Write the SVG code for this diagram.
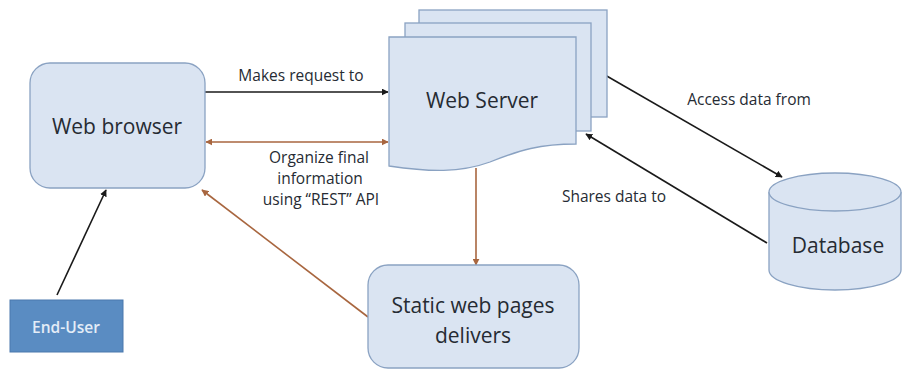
<svg xmlns="http://www.w3.org/2000/svg" width="904" height="373" viewBox="0 0 904 373">
<defs>
<style>
.box{fill:#dae4f2;stroke:#8aa2c2;stroke-width:1.3}
.t{font-family:"Open Sans","Liberation Sans",sans-serif;fill:#262b33}
.big{font-size:21px}
.lbl{font-size:15.5px}
.blk{stroke:#1a1a1a;stroke-width:1.6;fill:none}
.brn{stroke:#a8663f;stroke-width:1.6;fill:none}
</style>
<marker id="ak" viewBox="0 0 10 10" refX="9" refY="5" markerWidth="7" markerHeight="7" markerUnits="userSpaceOnUse" orient="auto-start-reverse"><path d="M0,0 L10,5 L0,10 z" fill="#1a1a1a"/></marker>
<marker id="ab" viewBox="0 0 10 10" refX="9" refY="5" markerWidth="7" markerHeight="7" markerUnits="userSpaceOnUse" orient="auto-start-reverse"><path d="M0,0 L10,5 L0,10 z" fill="#a8663f"/></marker>
</defs>
<rect width="904" height="373" fill="#ffffff"/>

<g id="connectors">
<line class="blk" x1="205" y1="92" x2="388" y2="92" marker-end="url(#ak)"/>
<line class="brn" x1="206" y1="142" x2="388" y2="142" marker-start="url(#ab)" marker-end="url(#ab)"/>
<line class="blk" x1="605" y1="75" x2="782" y2="177" marker-end="url(#ak)"/>
<line class="blk" x1="767" y1="243" x2="586" y2="134" marker-end="url(#ak)"/>
<line class="blk" x1="57" y1="295" x2="106" y2="190" marker-end="url(#ak)"/>
<line class="brn" x1="368" y1="317" x2="202" y2="190" marker-end="url(#ab)"/>
<line class="brn" x1="476" y1="168" x2="476" y2="265" marker-end="url(#ab)"/>
<text class="t lbl" x="301" y="81" text-anchor="middle">Makes request to</text>
<text class="t lbl" x="319" y="163" text-anchor="middle">Organize final</text>
<text class="t lbl" x="320" y="184" text-anchor="middle">information</text>
<text class="t lbl" x="321" y="205" text-anchor="middle">using “REST” API</text>
<text class="t lbl" x="749" y="105" text-anchor="middle">Access data from</text>
<text class="t lbl" x="614" y="202" text-anchor="middle">Shares data to</text>
</g>

<g id="web-browser">
<rect class="box" x="30" y="63" width="175" height="125" rx="20"/>
<text class="t big" x="117" y="134" text-anchor="middle">Web browser</text>
</g>

<g id="web-server">
<rect class="box" x="419" y="10" width="188" height="107"/>
<rect class="box" x="405" y="23" width="186" height="108"/>
<path class="box" d="M389,37 H576 V144 C540,144 520,150 490,162 C460,173 430,172 389,166 Z"/>
<text class="t big" x="482" y="108" text-anchor="middle">Web Server</text>
</g>

<g id="database">
<path class="box" d="M769,192 V270 A66,20 0 0 0 901,270 V192"/>
<ellipse class="box" cx="835" cy="192" rx="66" ry="19"/>
<text class="t big" x="838" y="253" text-anchor="middle">Database</text>
</g>

<g id="static-pages">
<rect class="box" x="368" y="265" width="211" height="103" rx="20"/>
<text class="t big" x="473" y="313" text-anchor="middle">Static web pages</text>
<text class="t big" x="473" y="343" text-anchor="middle">delivers</text>
</g>

<g id="end-user">
<rect x="10" y="300" width="113" height="52" fill="#5a8cc2" stroke="#4a78ad" stroke-width="1"/>
<text x="66" y="333" text-anchor="middle" font-family="'Open Sans','Liberation Sans',sans-serif" font-size="15.5" font-weight="600" fill="#e4edf7">End-User</text>
</g>
</svg>
